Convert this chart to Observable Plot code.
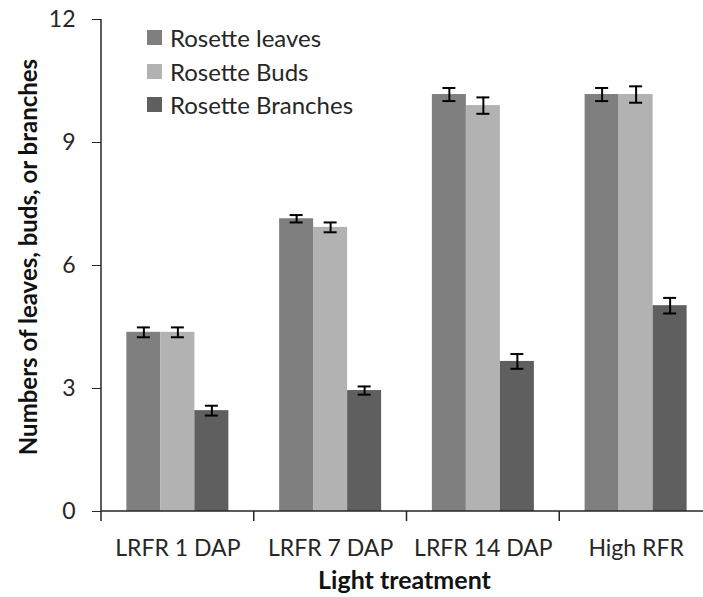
<!DOCTYPE html>
<html>
<head>
<meta charset="utf-8">
<script src="https://cdn.jsdelivr.net/npm/d3@7"></script>
<script src="https://cdn.jsdelivr.net/npm/@observablehq/plot@0.6"></script>
<style>
  html, body { margin: 0; padding: 0; background: #fff; }
  #chart { position: relative; width: 703px; height: 597px; font-family: Lato, "Open Sans", sans-serif; }
  #legend { position: absolute; left: 147px; top: 21px; color: #262626; font-size: 24px; }
  #legend .item { display: flex; align-items: center; height: 33.5px; }
  #legend .sw { width: 15px; height: 15px; margin-right: 8px; }
</style>
</head>
<body>
<div id="chart"></div>
<script>
// Categories, series and values (means and standard errors)
const categories = ["LRFR 1 DAP", "LRFR 7 DAP", "LRFR 14 DAP", "High RFR"];
const series = ["Rosette leaves", "Rosette Buds", "Rosette Branches"];
const leaves = [4.37, 7.14, 10.17, 10.17];
const buds = [4.37, 6.93, 9.90, 10.17];
const branches = [2.46, 2.95, 3.66, 5.02];
const leavesErr = [0.12, 0.09, 0.16, 0.16];
const budsErr = [0.12, 0.12, 0.20, 0.20];
const branchesErr = [0.12, 0.10, 0.18, 0.19];
const colors = ["#7f7f7f", "#b2b2b2", "#5f5f5f"];
const yTicks = [0, 3, 6, 9, 12];
const xTitle = "Light treatment";
const yTitle = "Numbers of leaves, buds, or branches";

const values = [leaves, buds, branches];
const errors = [leavesErr, budsErr, branchesErr];
const rows = [];
categories.forEach((c, i) => {
  series.forEach((s, j) => {
    const v = values[j][i], e = errors[j][i];
    rows.push({category: c, series: s, value: v, lo: v - e, hi: v + e});
  });
});

const font = "Lato, 'Open Sans', sans-serif";
const ink = "#262626";

const chart = Plot.plot({
  width: 703,
  height: 597,
  marginLeft: 101,
  marginRight: 0,
  marginTop: 19,
  marginBottom: 86,
  style: {fontFamily: font, color: ink, background: "#fff"},
  fx: {domain: categories, range: [101, 712], padding: 0, round: false, label: null},
  x: {domain: series, paddingInner: 0, paddingOuter: 0.746, axis: null, round: false},
  y: {domain: [0, 12], label: null},
  color: {domain: series, range: colors},
  marks: [
    Plot.barY(rows, {fx: "category", x: "series", y: "value", fill: "series"}),
    Plot.ruleX(rows, {fx: "category", x: "series", y1: "lo", y2: "hi", stroke: "#000", strokeWidth: 2}),
    Plot.tickY(rows, {fx: "category", x: "series", y: "hi", stroke: "#000", strokeWidth: 2, insetLeft: 10.5, insetRight: 10.5}),
    Plot.tickY(rows, {fx: "category", x: "series", y: "lo", stroke: "#000", strokeWidth: 2, insetLeft: 10.5, insetRight: 10.5}),
    Plot.axisY({ticks: yTicks, tickSize: 9, tickPadding: 17, fontSize: 23, stroke: ink, label: null}),
    Plot.axisFx({anchor: "bottom", tickSize: 0, tickPadding: 28, fontSize: 23, label: null})
  ]
});

document.getElementById("chart").appendChild(chart);

// Axis lines, category boundary ticks and axis titles, placed with the chart's own scales
const svg = d3.select(chart);
const fxs = chart.scale("fx");
const ys = chart.scale("y");
const y0 = ys.apply(0);
const yTop = ys.apply(12);
const left = fxs.range[0];
const g = svg.append("g").attr("stroke", ink).attr("stroke-width", 1.5);
g.append("line").attr("x1", left).attr("x2", left).attr("y1", yTop).attr("y2", y0);
g.append("line").attr("x1", left).attr("x2", 703).attr("y1", y0).attr("y2", y0);
const bounds = categories.map(c => fxs.apply(c));
bounds.push(fxs.apply(categories[categories.length - 1]) + fxs.bandwidth);
bounds.forEach(b => {
  g.append("line").attr("x1", b).attr("x2", b).attr("y1", y0).attr("y2", y0 + 10);
});

svg.append("text")
  .attr("x", (fxs.range[0] + fxs.range[1]) / 2 - 2)
  .attr("y", 589)
  .attr("text-anchor", "middle")
  .attr("font-size", 25)
  .attr("font-weight", "bold")
  .attr("fill", "#111")
  .text(xTitle);

svg.append("text")
  .attr("transform", `translate(37,${(y0 + yTop) / 2 - 8}) rotate(-90)`)
  .attr("text-anchor", "middle")
  .attr("font-size", 24)
  .attr("font-weight", "bold")
  .attr("fill", "#111")
  .text(yTitle);

// Legend in the upper left of the plot area
const legend = d3.select("#chart").append("div").attr("id", "legend");
series.forEach((s, j) => {
  const item = legend.append("div").attr("class", "item");
  item.append("div").attr("class", "sw").style("background", colors[j]);
  item.append("span").text(s);
});
</script>
</body>
</html>
